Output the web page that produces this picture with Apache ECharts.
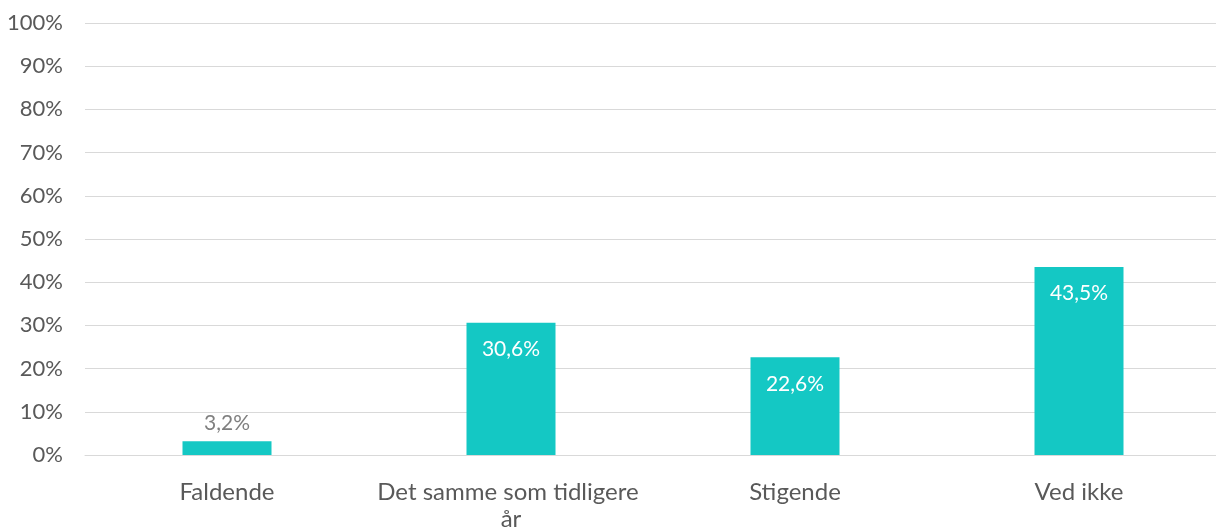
<!DOCTYPE html>
<html><head><meta charset="utf-8">
<script src="https://cdn.jsdelivr.net/npm/echarts@6/dist/echarts.min.js"></script>
<style>html,body{margin:0;padding:0;background:#fff;overflow:hidden;width:1216px;height:530px}#c{width:1232px;height:530px}</style>
</head><body><div id="c"></div>
<script>
const categories = ["Faldende", "Det samme som tidligere år", "Stigende", "Ved ikke"];
const values = [3.2, 30.6, 22.6, 43.5];
const yTicks = [0, 10, 20, 30, 40, 50, 60, 70, 80, 90, 100];

const font = "Lato, 'Open Sans', sans-serif";
const chart = echarts.init(document.getElementById('c'));
chart.setOption({
  animation: false,
  grid: { left: 85, width: 1136, top: 23, bottom: 75, containLabel: false, outerBoundsMode: 'none' },
  xAxis: {
    type: 'category', data: categories,
    axisLine: { show: true, lineStyle: { color: '#d9d9d9', width: 1 } },
    axisTick: { show: false },
    axisLabel: { color: '#595959', fontSize: 24, fontFamily: font, margin: 24, width: 280, overflow: 'break', lineHeight: 27, interval: 0 }
  },
  yAxis: {
    type: 'value', min: yTicks[0], max: yTicks[yTicks.length - 1], interval: 10,
    axisLine: { show: false }, axisTick: { show: false },
    splitLine: { lineStyle: { color: '#d9d9d9', width: 1 } },
    axisLabel: { color: '#595959', fontSize: 22, fontFamily: font, margin: 22, formatter: v => v + '%' }
  },
  series: [{
    type: 'bar', data: values.map((v, i) => ({
      value: v,
      label: i === 0 ? { position: 'top', color: '#7f7f7f', distance: 7 } : { position: 'insideTop', color: '#ffffff', distance: 16 }
    })),
    barWidth: 89,
    itemStyle: { color: '#14C8C4' },
    label: { show: true, fontSize: 21, fontFamily: font, formatter: p => p.value.toFixed(1).replace('.', ',') + '%' }
  }]
});
</script></body></html>
